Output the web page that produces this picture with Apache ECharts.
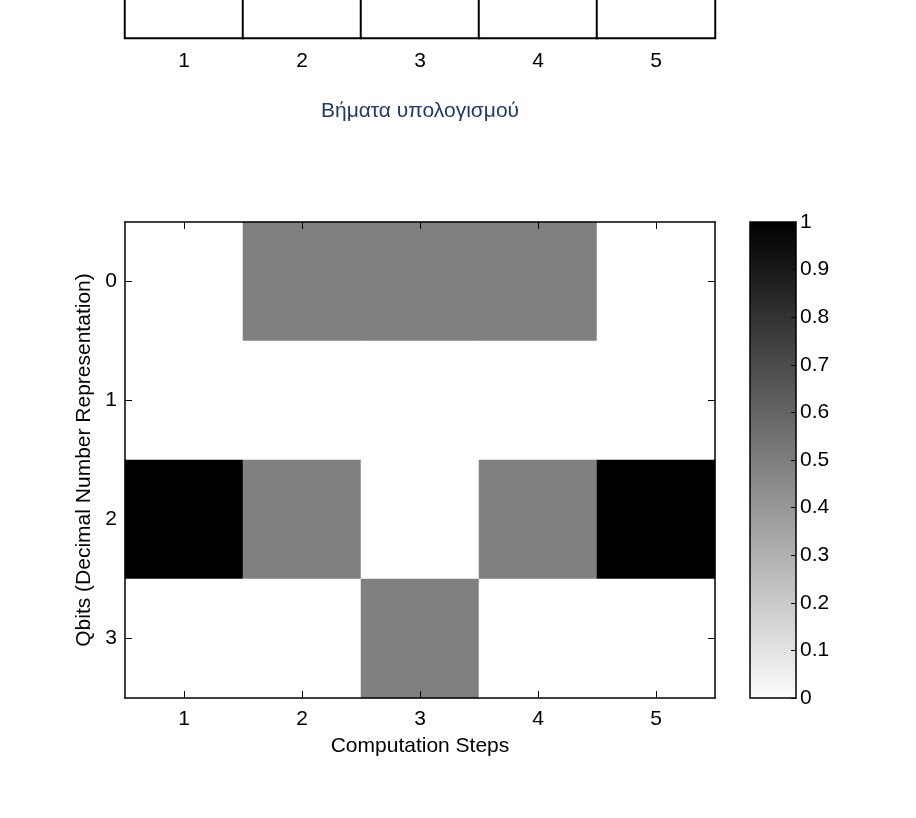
<!DOCTYPE html>
<html>
<head>
<meta charset="utf-8">
<script src="https://cdn.jsdelivr.net/npm/echarts@6/dist/echarts.min.js"></script>
<style>html,body{margin:0;padding:0;background:#fff}#c{width:916px;height:818px}</style>
</head>
<body>
<div id="c"></div>
<script>
const steps = ['1', '2', '3', '4', '5'];
const qbits = ['0', '1', '2', '3'];
// rows = qbits 0..3, columns = computation steps 1..5
const row0 = [0, 0.5, 0.5, 0.5, 0];
const row1 = [0, 0, 0, 0, 0];
const row2 = [1, 0.5, 0, 0.5, 1];
const row3 = [0, 0, 0.5, 0, 0];
const topRow = [0, 0, 0, 0, 0];
const colorbarTicks = [0, 0.1, 0.2, 0.3, 0.4, 0.5, 0.6, 0.7, 0.8, 0.9, 1];

const rows = [row0, row1, row2, row3];
const mainData = [];
rows.forEach((r, yi) => r.forEach((v, xi) => mainData.push([xi, yi, v])));
const topData = topRow.map((v, xi) => [xi, 0, v]);

const FONT = 'Liberation Sans, Arial, sans-serif';
const FS = 21;
const chart = echarts.init(document.getElementById('c'));
const tickStyle = { show: true, inside: true, length: 7, alignWithLabel: true, lineStyle: { color: '#000', width: 1 } };
const lineStyle = { show: true, onZero: false, lineStyle: { color: '#000', width: 1.5 } };

chart.setOption({
  animation: false,
  backgroundColor: '#fff',
  grid: [
    { left: 125, right: 201, top: 222, bottom: 120, outerBoundsMode: 'none', containLabel: false },
    { left: 125, right: 201, top: -200, bottom: 780, outerBoundsMode: 'none', containLabel: false },
    { left: 750, width: 46, top: 222, bottom: 120, outerBoundsMode: 'none', containLabel: false,
      show: true, borderColor: '#000', borderWidth: 1.5,
      backgroundColor: new echarts.graphic.LinearGradient(0, 0, 0, 1, [
        { offset: 0, color: '#000000' }, { offset: 1, color: '#fcfcfc' }]) }
  ],
  xAxis: [
    { gridIndex: 0, type: 'category', data: steps, position: 'bottom', z: 10,
      axisLine: lineStyle, axisTick: tickStyle, splitLine: { show: false },
      axisLabel: { color: '#000', fontSize: FS, fontFamily: FONT, margin: 11 },
      name: 'Computation Steps', nameLocation: 'middle', nameGap: 38,
      nameTextStyle: { color: '#000', fontSize: FS, fontFamily: FONT } },
    { gridIndex: 0, type: 'category', data: steps, position: 'top', z: 10,
      axisLine: lineStyle, axisTick: tickStyle, axisLabel: { show: false } },
    { gridIndex: 1, type: 'category', data: steps, position: 'bottom', z: 10,
      axisLine: { show: false }, axisTick: { show: false },
      axisLabel: { color: '#000', fontSize: FS, fontFamily: FONT, margin: 13 },
      name: 'Βήματα υπολογισμού', nameLocation: 'middle', nameGap: 63,
      nameTextStyle: { color: '#1f3a6b', fontSize: FS, fontFamily: FONT } },
    { gridIndex: 2, type: 'value', min: 0, max: 1, show: false }
  ],
  yAxis: [
    { gridIndex: 0, type: 'category', data: qbits, inverse: true, position: 'left', z: 10,
      axisLine: lineStyle, axisTick: tickStyle, splitLine: { show: false },
      axisLabel: { color: '#000', fontSize: FS, fontFamily: FONT, margin: 8 },
      name: 'Qbits (Decimal Number Representation)', nameLocation: 'middle', nameGap: 29,
      nameTextStyle: { color: '#000', fontSize: FS, fontFamily: FONT } },
    { gridIndex: 0, type: 'category', data: qbits, inverse: true, position: 'right', z: 10,
      axisLine: lineStyle, axisTick: tickStyle, axisLabel: { show: false } },
    { gridIndex: 1, type: 'category', data: ['0'], axisLine: { show: false },
      axisTick: { show: false }, axisLabel: { show: false } },
    { gridIndex: 2, type: 'value', min: 0, max: 1, interval: 0.1, position: 'right', z: 10,
      axisLine: { show: false, onZero: false },
      axisTick: { show: true, inside: true, length: 5, lineStyle: { color: '#000' } },
      splitLine: { show: false },
      axisLabel: { color: '#000', fontSize: FS, fontFamily: FONT, margin: 4,
        formatter: v => String(Math.round(v * 10) / 10) } }
  ],
  visualMap: {
    show: false, type: 'continuous', min: 0, max: 1,
    inRange: { color: ['#ffffff', '#000000'] }, seriesIndex: [0, 1]
  },
  series: [
    { type: 'heatmap', xAxisIndex: 0, yAxisIndex: 0, data: mainData, z: 2,
      itemStyle: { borderWidth: 0 }, emphasis: { disabled: true } },
    { type: 'heatmap', xAxisIndex: 2, yAxisIndex: 2, data: topData, z: 2,
      itemStyle: { borderColor: '#000', borderWidth: 2 }, emphasis: { disabled: true } }
  ]
});
</script>
</body>
</html>
